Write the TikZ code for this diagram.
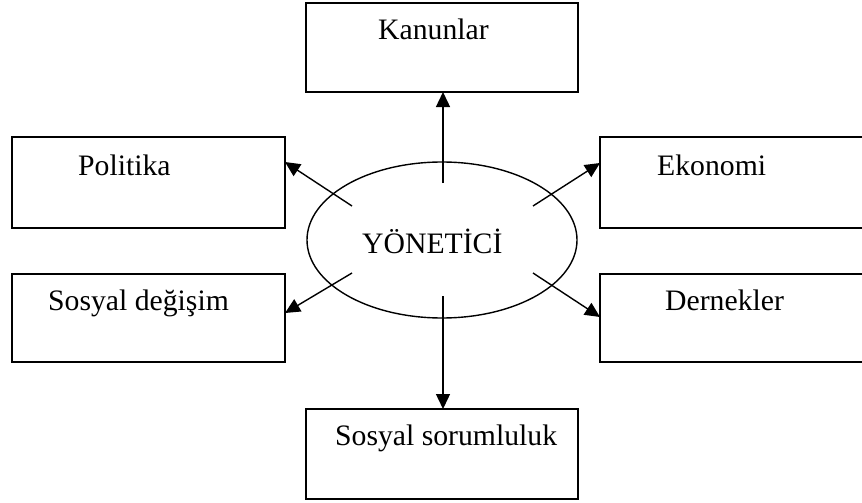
\documentclass[tikz,border=0pt]{standalone}
\usepackage{fontspec}
\setmainfont{Liberation Serif}
\usetikzlibrary{arrows.meta,shapes.geometric}
\begin{document}
\begin{tikzpicture}[x=1pt,y=-1pt,
  box/.style={draw,line width=1.8pt},
  lbl/.style={anchor=base west,inner sep=0pt,font=\fontsize{29.7}{34}\selectfont},
  arr/.style={line width=1.4pt,-{Triangle[length=15pt,width=14pt]}}]
\useasboundingbox (0,0) rectangle (862,503);
\clip (0,0) rectangle (862,503);
\fill[white] (0,0) rectangle (862,503);
% boxes
\draw[box] (306,3) rectangle (578,92);
\draw[box] (12,137) rectangle (285,228);
\draw[box] (600,137) rectangle (873,228);
\draw[box] (12,274) rectangle (285,362);
\draw[box] (600,274) rectangle (873,362);
\draw[box] (306,409) rectangle (578,499);
% named anchors
\coordinate (kb) at (443,92);
\coordinate (pb) at (285,162);
\coordinate (eb) at (600,163);
\coordinate (sb) at (285,313);
\coordinate (db) at (600,317);
\coordinate (ssb) at (443,409);
\coordinate (ku) at (443,183);
\coordinate (kd) at (443,296);
\coordinate (pl) at (352,206);
\coordinate (el) at (533,206);
\coordinate (sl) at (352,273);
\coordinate (dl) at (533,273);
% ellipse
\draw[line width=1.4pt] (442,240) ellipse [x radius=135, y radius=78];
% texts
\node[lbl] (kan) at (378,40) {Kanunlar};
\node[lbl] (pol) at (78,175) {Politika};
\node[lbl] (eko) at (657,175) {Ekonomi};
\node[lbl] (sos) at (48,310) {Sosyal değişim};
\node[lbl] (der) at (665,310) {Dernekler};
\node[lbl] (yon) at (362,253) {YÖNETİCİ};
\node[lbl] (sor) at (335,445) {Sosyal sorumluluk};
% arrows
\draw[arr] (ku) -- (kb);
\draw[arr] (kd) -- (ssb);
\draw[arr] (pl) -- (pb);
\draw[arr] (el) -- (eb);
\draw[arr] (sl) -- (sb);
\draw[arr] (dl) -- (db);
\end{tikzpicture}
\end{document}
